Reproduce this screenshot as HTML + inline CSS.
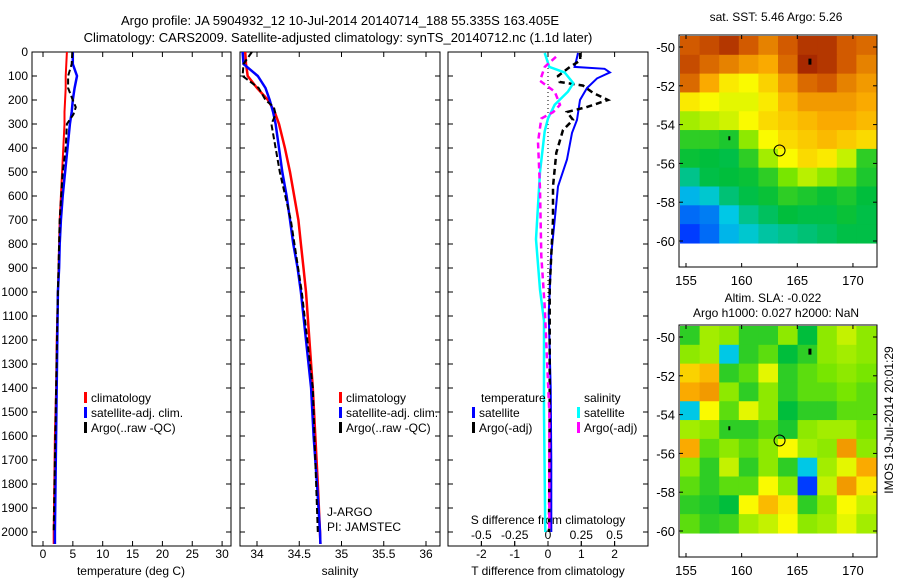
<!DOCTYPE html>
<html><head><meta charset="utf-8"><style>
body{margin:0;background:#fff;}
svg{display:block;font-family:"Liberation Sans",sans-serif;}
</style></head><body>
<svg id="fig" width="900" height="580" viewBox="0 0 900 580" xmlns="http://www.w3.org/2000/svg">
<rect width="900" height="580" fill="#fff"/>
<text x="340" y="25" font-size="13" text-anchor="middle">Argo profile: JA 5904932_12 10-Jul-2014 20140714_188 55.335S 163.405E</text>
<text x="338" y="42" font-size="13" text-anchor="middle">Climatology: CARS2009. Satellite-adjusted climatology: synTS_20140712.nc (1.1d later)</text>
<g id="g"></g>
</svg>
<script>
// ---- data ----
const depths = [0,50,100,150,200,250,300,400,500,600,700,800,900,1000,1200,1400,1600,1800,2000,2050];
const tempClim = [4.0,3.9,3.8,3.8,3.7,3.6,3.6,3.4,3.2,3.0,2.8,2.7,2.6,2.5,2.3,2.2,2.0,1.9,1.8,1.8];
const tempSat  = [5.0,5.0,5.7,5.3,5.0,4.8,4.5,4.1,3.7,3.3,3.0,2.8,2.7,2.5,2.4,2.3,2.2,2.1,2.0,2.0];
const depthsArgo = [0,50,100,150,200,230,260,300,400,500,700,1000,1400,2000];
const tempArgo = [4.9,4.8,4.2,4.2,5.0,5.5,5.1,4.0,3.8,3.3,2.8,2.5,2.2,1.8];
const salClim = [33.86,33.87,33.89,34.0,34.13,34.21,34.26,34.33,34.39,34.44,34.49,34.52,34.55,34.58,34.62,34.66,34.69,34.72,34.745,34.75];
const salSat  = [33.83,33.84,34.01,34.1,34.15,34.19,34.22,34.26,34.3,34.35,34.39,34.43,34.48,34.52,34.58,34.64,34.67,34.71,34.745,34.75];
const salArgo = [33.94,33.84,33.83,34.02,34.1,34.2,34.22,34.17,34.22,34.27,34.4,34.53,34.66,34.72];
const dDepthT = [4,35,62,70,85,110,150,200,283,337,448,560,700,840,1090,1400,1700,2000];
const dTsat  = [0.9,0.85,0.8,1.7,1.86,1.47,1.17,0.96,0.87,0.72,0.57,0.3,0.2,0.1,0.02,0.08,0.1,0.1];
const dDepthTA = [4,35,62,100,125,140,170,200,230,250,283,325,420,560,700,980,1500,2000];
const dTargo = [0.96,0.97,0.66,0.3,0.35,1.05,1.35,1.8,1.15,0.57,0.75,0.45,0.25,0.15,0.15,0.05,0.05,0.03];
const dDepthS = [4,62,85,130,165,220,277,330,500,780,990,1120,1500,2000];
const dSsat  = [-0.025,0.01,0.125,0.19,0.15,0.05,0,-0.025,-0.06,-0.09,-0.06,-0.03,-0.03,-0.02];
const dDepthSA = [20,62,120,165,220,250,277,375,570,850,1060,1500,2000];
const dSargo = [0.06,-0.025,-0.06,0.05,0.09,0.04,-0.05,-0.075,-0.06,-0.05,-0.025,0.01,0.01];
const depthTicks = [0,100,200,300,400,500,600,700,800,900,1000,1100,1200,1300,1400,1500,1600,1700,1800,1900,2000];
const tempTicks = [0,5,10,15,20,25,30];
const salTicks = [34,34.5,35,35.5,36];
const tdTicks = [-2,-1,0,1,2];
const sdTicks = [-0.5,-0.25,0,0.25,0.5];
const lonTicks = [155,160,165,170];
const latTicks = [-50,-52,-54,-56,-58,-60];
const sstGrid = [
[0.9,0.92,0.95,0.9,0.85,0.9,0.95,0.95,0.9,0.88],
[0.92,0.88,0.85,0.82,0.8,0.88,0.97,0.95,0.9,0.85],
[0.88,0.8,0.72,0.7,0.75,0.82,0.88,0.9,0.85,0.82],
[0.72,0.7,0.68,0.68,0.72,0.78,0.82,0.82,0.82,0.8],
[0.62,0.64,0.66,0.7,0.74,0.76,0.78,0.8,0.8,0.78],
[0.5,0.5,0.48,0.6,0.7,0.74,0.76,0.78,0.76,0.74],
[0.46,0.45,0.44,0.5,0.62,0.7,0.74,0.72,0.65,0.5],
[0.38,0.44,0.45,0.46,0.5,0.58,0.64,0.6,0.55,0.48],
[0.28,0.32,0.4,0.44,0.46,0.5,0.48,0.46,0.48,0.45],
[0.2,0.22,0.3,0.38,0.42,0.45,0.44,0.44,0.46,0.44],
[0.15,0.2,0.28,0.32,0.36,0.38,0.4,0.42,0.44,0.44]];
const slaGrid = [
[0.5,0.62,0.6,0.5,0.5,0.6,0.45,0.6,0.65,0.6],
[0.6,0.62,0.3,0.5,0.55,0.45,0.5,0.6,0.62,0.6],
[0.75,0.78,0.5,0.55,0.68,0.5,0.55,0.58,0.6,0.58],
[0.8,0.82,0.6,0.5,0.6,0.5,0.55,0.55,0.58,0.55],
[0.3,0.7,0.55,0.68,0.6,0.45,0.5,0.5,0.55,0.55],
[0.62,0.6,0.5,0.5,0.55,0.48,0.6,0.62,0.62,0.58],
[0.8,0.55,0.6,0.55,0.6,0.7,0.62,0.6,0.82,0.6],
[0.6,0.5,0.65,0.5,0.6,0.5,0.3,0.62,0.68,0.8],
[0.55,0.5,0.55,0.55,0.7,0.6,0.15,0.65,0.82,0.72],
[0.5,0.48,0.45,0.7,0.78,0.72,0.5,0.6,0.7,0.65],
[0.55,0.5,0.52,0.62,0.65,0.7,0.6,0.62,0.68,0.62]];
const argoLon = 163.405, argoLat = -55.335;

// ---- scales ----
const NS='http://www.w3.org/2000/svg';
const G=document.getElementById('g');
function el(t,a,p){const e=document.createElementNS(NS,t);for(const k in a)e.setAttribute(k,a[k]);(p||G).appendChild(e);return e;}
function txt(x,y,s,a,p){const e=el('text',Object.assign({x:x,y:y,'font-size':12},a||{}),p);e.textContent=s;return e;}
const yD=d=>52+d*0.24;
const xT=v=>43+v*5.97;
const xS=v=>257+(v-34)*84.5;
const xDT=v=>548+v*33.3;
const xDS=v=>548+v*133.2;
const PB=546;

function panel(x0,x1,name){
  const r=el('rect',{x:x0,y:52,width:x1-x0,height:PB-52,fill:'none',stroke:'#000','stroke-width':1});
  
  
}
function xTicks(arr,fx,lblY,name,top){
  arr.forEach(v=>{const x=fx(v);
    el('line',{x1:x,y1:PB,x2:x,y2:PB-5,stroke:'#000'});
    if(top) el('line',{x1:x,y1:52,x2:x,y2:57,stroke:'#000'});
    const t=txt(x,lblY,String(v),{'text-anchor':'middle'});
    
    
  });
}
function line(xs,ds,fx,color,w,dash,name){
  const pts=xs.map((v,i)=>fx(v).toFixed(1)+','+yD(ds[i]).toFixed(1)).join(' ');
  const p=el('polyline',{points:pts,fill:'none',stroke:color,'stroke-width':w});
  if(dash)p.setAttribute('stroke-dasharray',dash);
  
  
}
function legend(x,y,color,label,name){
  el('rect',{x:x,y:y-10,width:3,height:11,fill:color});
  const t=txt(x+7,y,label);
  
  
}

// panel 1: temperature
panel(32,231,'temperature-panel');
depthTicks.forEach(d=>{const y=yD(d);
  [32,231].forEach(x=>el('line',{x1:x,y1:y,x2:x+(x===32?5:-5),y2:y,stroke:'#000'}));
  [240,440,448,648].forEach(x=>el('line',{x1:x,y1:y,x2:x+((x===240||x===448)?5:-5),y2:y,stroke:'#000'}));
  const t=txt(28,y+4,String(d),{'text-anchor':'end'});
  
  
});
xTicks(tempTicks,xT,558,'temperature-tick-label',true);
let t1=txt(131,575,'temperature (deg C)',{'text-anchor':'middle'});


line(tempClim,depths,xT,'#f00',2,null,'temperature-climatology-line');
line(tempSat,depths,xT,'#00f',2.5,null,'temperature-satellite-line');
line(tempArgo,depthsArgo,xT,'#000',2,'6,3','temperature-argo-line');
legend(84,402,'#f00','climatology','legend-climatology');
legend(84,417,'#00f','satellite-adj. clim.','legend-satellite');
legend(84,432,'#000','Argo(..raw -QC)','legend-argo');

// panel 2: salinity
panel(240,440,'salinity-panel');
xTicks(salTicks,xS,558,'salinity-tick-label',true);
let t2=txt(340,575,'salinity',{'text-anchor':'middle'});


line(salClim,depths,xS,'#f00',2.5,null,'salinity-climatology-line');
line(salSat,depths,xS,'#00f',2.5,null,'salinity-satellite-line');
line(salArgo,depthsArgo,xS,'#000',2,'6,3','salinity-argo-line');
legend(339,402,'#f00','climatology','legend-climatology-sal');
legend(339,417,'#00f','satellite-adj. clim.','legend-satellite-sal');
legend(339,432,'#000','Argo(..raw -QC)','legend-argo-sal');
let j1=txt(327,516,'J-ARGO');
let j2=txt(327,531,'PI: JAMSTEC');

// panel 3: differences
panel(448,648,'difference-panel');
el('line',{x1:548,y1:52,x2:548,y2:yD(1050),stroke:'#000','stroke-dasharray':'1,3'});
xTicks(tdTicks,xDT,558,'t-diff-tick-label',true);
xTicks(sdTicks,xDS,539,'s-diff-tick-label',false);
let t3=txt(548,575,'T difference from climatology',{'text-anchor':'middle'});

let t4=txt(548,524,'S difference from climatology',{'text-anchor':'middle'});

line(dTsat,dDepthT,xDT,'#00f',2,null,'t-diff-satellite-line');
line(dTargo,dDepthTA,xDT,'#000',2.5,'6,4','t-diff-argo-line');
line(dSsat,dDepthS,xDS,'#0ff',2.5,null,'s-diff-satellite-line');
line(dSargo,dDepthSA,xDS,'#f0f',2.5,'6,4','s-diff-argo-line');
let h1=txt(481,402,'temperature');
let h2=txt(584,402,'salinity');
legend(472,417,'#00f','satellite','legend-t-satellite');
legend(472,432,'#000','Argo(-adj)','legend-t-argo');
legend(577,417,'#0ff','satellite','legend-s-satellite');
legend(577,432,'#f0f','Argo(-adj)','legend-s-argo');

// maps
function jet(v){
  const stops=[[0,[0,0,140]],[0.15,[0,60,255]],[0.3,[0,200,230]],[0.45,[0,190,60]],[0.58,[120,230,0]],[0.7,[250,250,0]],[0.8,[250,170,0]],[0.9,[210,90,0]],[1,[150,20,0]]];
  for(let i=1;i<stops.length;i++){if(v<=stops[i][0]){const a=stops[i-1],b=stops[i],f=(v-a[0])/(b[0]-a[0]);
    return 'rgb('+a[1].map((c,k)=>Math.round(c+(b[1][k]-c)*f)).join(',')+')';}}
  return 'rgb(150,20,0)';
}
function map(top,grid,name){
  const xL=lon=>686+(lon-155)*11.13;
  const yL=lat=>top+12+(-50-lat)*19.4;
  const x0=680,x1=876,y0=top+1,y1=yL(-60.1);
  const nr=grid.length,nc=grid[0].length;
  const cw=(x1-x0)/nc,ch=(y1-y0)/nr;
  grid.forEach((row,i)=>row.forEach((v,j)=>{
    const c=el('rect',{x:(x0+j*cw).toFixed(2),y:(y0+i*ch).toFixed(2),width:(cw+0.6).toFixed(2),height:(ch+0.6).toFixed(2),fill:jet(v)});
    
    
  }));
  const f=el('rect',{x:679,y:top,width:198,height:232,fill:'none',stroke:'#000'});
  
  
  lonTicks.forEach(l=>{const x=xL(l);
    el('line',{x1:x,y1:top+232,x2:x,y2:top+228,stroke:'#000'});
    el('line',{x1:x,y1:top,x2:x,y2:top+4,stroke:'#000'});
    const t=txt(x,top+250,String(l),{'text-anchor':'middle','font-size':13});
    });
  latTicks.forEach(l=>{const y=yL(l);
    el('line',{x1:679,y1:y,x2:683,y2:y,stroke:'#000'});
    el('line',{x1:877,y1:y,x2:873,y2:y,stroke:'#000'});
    const t=txt(675,y+5,String(l),{'text-anchor':'end','font-size':13});
    });
  const c=el('circle',{cx:xL(argoLon),cy:yL(argoLat),r:5.5,fill:'none',stroke:'#000','stroke-width':1});
  
  
  el('rect',{x:xL(166),y:yL(-50.6),width:3,height:6,fill:'#000'});
  el('rect',{x:xL(158.8),y:yL(-54.6),width:2,height:4,fill:'#000'});
}
map(35,sstGrid,'sst-map');
map(325,slaGrid,'sla-map');
let m1=txt(776,21,'sat. SST: 5.46 Argo: 5.26',{'text-anchor':'middle'});
let m2=txt(773,302,'Altim. SLA: -0.022',{'text-anchor':'middle'});
let m3=txt(776,317,'Argo h1000: 0.027 h2000: NaN',{'text-anchor':'middle'});
let im=txt(0,0,'IMOS 19-Jul-2014 20:01:29',{'text-anchor':'middle','transform':'translate(893,420) rotate(-90)'});

</script>
</body></html>
